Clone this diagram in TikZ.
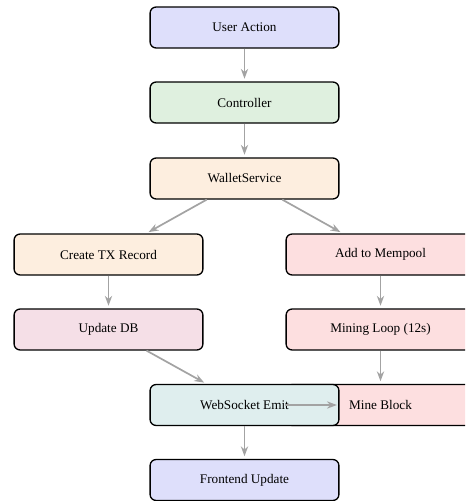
\documentclass[tikz,border=0pt]{standalone}
\usepackage{fontspec}
\setmainfont{Liberation Serif}
\usetikzlibrary{arrows.meta}
\definecolor{cUser}{HTML}{DEDFFB}
\definecolor{cCtrl}{HTML}{DFF0DF}
\definecolor{cSvc}{HTML}{FDEEDF}
\definecolor{cChain}{HTML}{FDDFE0}
\definecolor{cDb}{HTML}{F5DFE7}
\definecolor{cWs}{HTML}{DFEEEE}
\definecolor{cArrow}{HTML}{A3A3A3}
\tikzset{
  stage/.style={draw=black, line width=1pt, rounded corners=4.5pt,
    minimum width=143pt, minimum height=31pt, inner sep=0pt,
    font=\fontsize{10}{12}\selectfont},
  flow/.style={draw=cArrow, line width=1.3pt,
    -{Stealth[length=7.5pt,width=5.5pt]}, shorten >=2pt}
}
\begin{document}
\begin{tikzpicture}[x=0.7576pt, y=-0.7576pt]
\useasboundingbox (0,0) rectangle (465,501);
\clip (0,0) rectangle (465,501);
% main column
\node[stage, fill=cUser]  (user)  at (244.5,27.5)  {User Action};
\node[stage, fill=cCtrl]  (ctrl)  at (244.5,102.5) {Controller};
\node[stage, fill=cSvc]   (svc)   at (244.5,178.5) {WalletService};
% database branch
\node[stage, fill=cSvc]   (tx)    at (108.5,254.5) {Create TX Record};
\node[stage, fill=cDb]    (db)    at (108.5,329.5) {Update DB};
% chain branch
\node[stage, fill=cChain] (pool)  at (380.5,254.5) {Add to Mempool};
\node[stage, fill=cChain] (loop)  at (380.5,329.5) {Mining Loop (12s)};
\node[stage, fill=cChain] (mine)  at (380.5,405)   {Mine Block};
% notification
\node[stage, fill=cWs]    (ws)    at (244.5,405)   {WebSocket Emit};
\node[stage, fill=cUser]  (front) at (244.5,480)   {Frontend Update};
% connectors
\draw[flow] (user) -- (ctrl);
\draw[flow] (ctrl) -- (svc);
\draw[flow] (svc) -- (tx);
\draw[flow] (svc) -- (pool);
\draw[flow] (tx) -- (db);
\draw[flow] (pool) -- (loop);
\draw[flow] (loop) -- (mine);
\draw[flow] (db) -- (ws);
\draw[flow] (mine) -- (ws);
\draw[flow] (ws) -- (front);
\end{tikzpicture}
\end{document}
